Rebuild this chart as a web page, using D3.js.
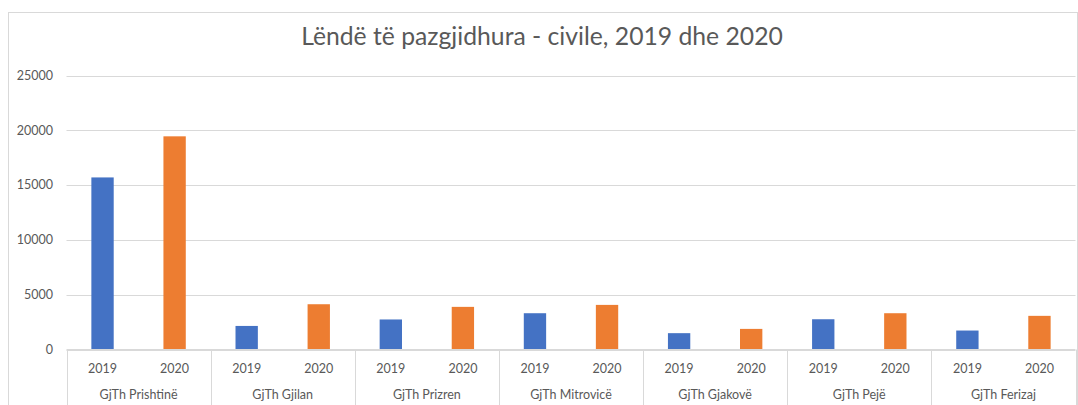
<!DOCTYPE html>
<html>
<head>
<meta charset="utf-8">
<script src="https://cdn.jsdelivr.net/npm/d3@7"></script>
<style>
  html, body { margin: 0; padding: 0; background: #fff; }
  svg { display: block; }
  text { font-family: "Lato", "Open Sans", sans-serif; fill: #595959; }
</style>
</head>
<body>
<svg id="chart" width="1078" height="405"></svg>
<script>
const title = "Lëndë të pazgjidhura - civile, 2019 dhe 2020";
const courts = ["GjTh Prishtinë", "GjTh Gjilan", "GjTh Prizren", "GjTh Mitrovicë", "GjTh Gjakovë", "GjTh Pejë", "GjTh Ferizaj"];
const years = ["2019", "2020"];
const values2019 = [15700, 2150, 2740, 3310, 1490, 2760, 1730];
const values2020 = [19450, 4130, 3890, 4070, 1880, 3310, 3070];
const yTicks = [0, 5000, 10000, 15000, 20000, 25000];
const colors = ["#4472C4", "#ED7D31"];

(function () {
const svg = d3.select("#chart");
const W = 1078, H = 405;
const pLeft = 66.5, pRight = 1075.5, pTop = 75.5, pBottom = 349.5;

// chart border
svg.append("rect").attr("x", 8.5).attr("y", 12.5).attr("width", 1069).attr("height", 420)
  .attr("fill", "#fff").attr("stroke", "#d9d9d9").attr("stroke-width", 1);

const x = d3.scaleBand().domain(courts).range([pLeft, pRight]).padding(0);
const xi = d3.scaleBand().domain(years).range([0, x.bandwidth()]).paddingInner(0.69).paddingOuter(0.345);
const y = d3.scaleLinear().domain([0, 25000]).range([pBottom, pTop]);

// gridlines
svg.append("g").selectAll("line").data(yTicks).join("line")
  .attr("x1", pLeft).attr("x2", pRight)
  .attr("y1", d => Math.round(y(d)) + 0.5).attr("y2", d => Math.round(y(d)) + 0.5)
  .attr("stroke", "#d9d9d9").attr("stroke-width", 1);

// y labels
svg.append("g").selectAll("text").data(yTicks).join("text")
  .attr("x", 53).attr("y", d => y(d)).attr("dy", "0.35em")
  .attr("text-anchor", "end").attr("font-size", 12.5).text(d => d);

// bars
const data = [];
courts.forEach((c, i) => {
  data.push({ court: c, year: years[0], value: values2019[i] });
  data.push({ court: c, year: years[1], value: values2020[i] });
});
svg.append("g").selectAll("rect").data(data).join("rect")
  .attr("x", d => x(d.court) + xi(d.year))
  .attr("width", xi.bandwidth())
  .attr("y", d => y(d.value))
  .attr("height", d => y(0) - y(d.value))
  .attr("fill", d => colors[years.indexOf(d.year)]);

// axis line
svg.append("line").attr("x1", pLeft).attr("x2", pRight).attr("y1", pBottom).attr("y2", pBottom)
  .attr("stroke", "#d9d9d9");

// category separators
const seps = courts.map(c => x(c)).concat([pRight]);
svg.append("g").selectAll("line").data(seps).join("line")
  .attr("x1", d => Math.round(d) + 0.5).attr("x2", d => Math.round(d) + 0.5)
  .attr("y1", pBottom).attr("y2", H)
  .attr("stroke", "#d9d9d9");

// year labels
svg.append("g").selectAll("text").data(data).join("text")
  .attr("x", d => x(d.court) + xi(d.year) + xi.bandwidth() / 2)
  .attr("y", 369).attr("dy", "0.35em").attr("text-anchor", "middle")
  .attr("font-size", 12.5).text(d => d.year);

// court labels
svg.append("g").selectAll("text").data(courts).join("text")
  .attr("x", d => x(d) + x.bandwidth() / 2)
  .attr("y", 395).attr("dy", "0.35em").attr("text-anchor", "middle")
  .attr("font-size", 12.5).text(d => d);

// title
const t = svg.append("text").attr("x", 542).attr("y", 45).attr("text-anchor", "middle")
  .attr("font-size", 24).text(title);
const len = t.node().getComputedTextLength();
t.attr("font-size", 24 * 482 / len);
})();
</script>
</body>
</html>
